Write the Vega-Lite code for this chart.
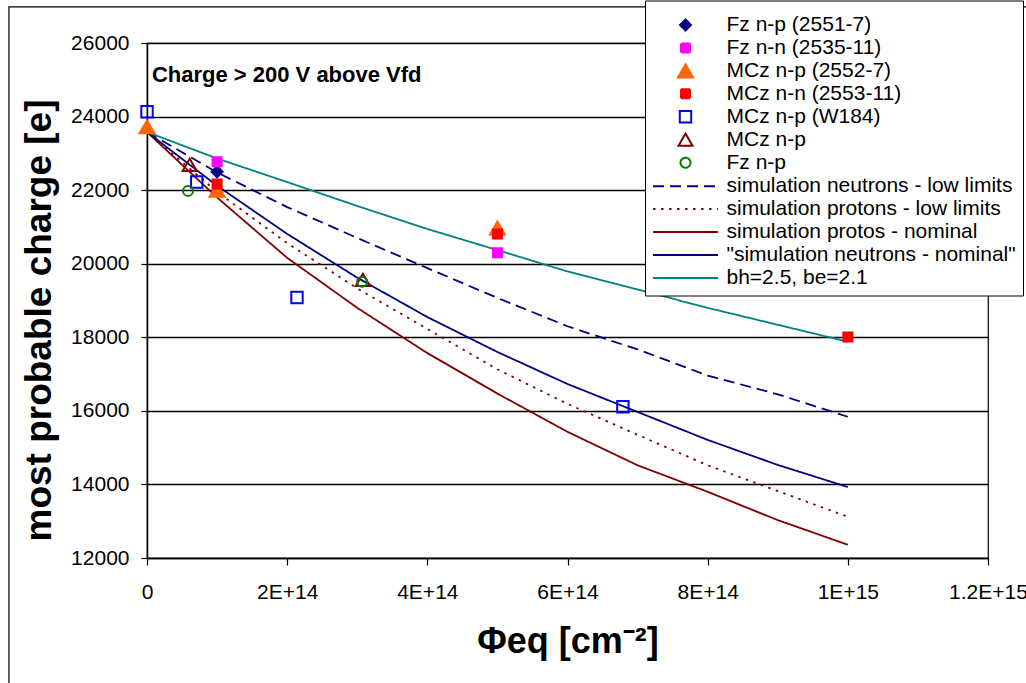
{
  "$schema": "https://vega.github.io/schema/vega-lite/v6.json",
  "autosize": {"type": "none"},
  "width": 841,
  "height": 515,
  "padding": {"left": 147, "top": 43, "right": 38, "bottom": 125},
  "background": "white",
  "config": {
    "view": {"stroke": "black", "strokeWidth": 1.2},
    "font": "Liberation Sans",
    "axis": {
      "labelFont": "Liberation Sans",
      "labelFontSize": 21,
      "labelColor": "black",
      "titleFont": "Liberation Sans",
      "titleFontWeight": "bold",
      "titleColor": "black",
      "domainColor": "black",
      "domainWidth": 1.5,
      "tickColor": "black",
      "tickWidth": 1.2
    },
    "legend": {
      "orient": "none", "legendX": 498, "legendY": -42.5,
      "titleFontSize": 4, "titlePadding": 3,
      "strokeColor": "black", "fillColor": "white", "padding": 7,
      "labelFont": "Liberation Sans", "labelFontSize": 21, "labelColor": "black",
      "labelOffset": 29, "symbolOffset": 21.5, "rowPadding": 0.95, "labelLimit": 500, "symbolLimit": 20,
      "symbolStrokeWidth": 2, "symbolOpacity": 1
    }
  },
  "datasets": {
    "pts": [
      {"series": "Fz n-p (2551-7)", "x": 1e14, "y": 22500},
      {"series": "Fz n-n (2535-11)", "x": 1e14, "y": 22770},
      {"series": "Fz n-n (2535-11)", "x": 5e14, "y": 20300},
      {"series": "MCz n-p (2552-7)", "x": 0, "y": 23720},
      {"series": "MCz n-p (2552-7)", "x": 1e14, "y": 22000},
      {"series": "MCz n-p (2552-7)", "x": 5e14, "y": 20970},
      {"series": "MCz n-n (2553-11)", "x": 1e14, "y": 22170},
      {"series": "MCz n-n (2553-11)", "x": 5e14, "y": 20810},
      {"series": "MCz n-n (2553-11)", "x": 1e15, "y": 18010},
      {"series": "MCz n-p (W184)", "x": 0, "y": 24130},
      {"series": "MCz n-p (W184)", "x": 7.1e13, "y": 22220},
      {"series": "MCz n-p (W184)", "x": 2.14e14, "y": 19080},
      {"series": "MCz n-p (W184)", "x": 6.79e14, "y": 16110},
      {"series": "MCz n-p", "x": 6.1e13, "y": 22690},
      {"series": "MCz n-p", "x": 3.08e14, "y": 19560},
      {"series": "Fz n-p", "x": 5.85e13, "y": 21980},
      {"series": "Fz n-p", "x": 3.07e14, "y": 19510}
    ],
    "lines": [
      {"series": "simulation neutrons - low limits", "x": 0, "y": 23580},
      {"series": "simulation neutrons - low limits", "x": 1e14, "y": 22480},
      {"series": "simulation neutrons - low limits", "x": 2e14, "y": 21540},
      {"series": "simulation neutrons - low limits", "x": 3e14, "y": 20700},
      {"series": "simulation neutrons - low limits", "x": 4e14, "y": 19880},
      {"series": "simulation neutrons - low limits", "x": 5e14, "y": 19070},
      {"series": "simulation neutrons - low limits", "x": 6e14, "y": 18300},
      {"series": "simulation neutrons - low limits", "x": 7e14, "y": 17670},
      {"series": "simulation neutrons - low limits", "x": 8e14, "y": 16960},
      {"series": "simulation neutrons - low limits", "x": 9e14, "y": 16450},
      {"series": "simulation neutrons - low limits", "x": 1e15, "y": 15840},
      {"series": "simulation protons - low limits", "x": 0, "y": 23580},
      {"series": "simulation protons - low limits", "x": 1e14, "y": 21950},
      {"series": "simulation protons - low limits", "x": 2e14, "y": 20560},
      {"series": "simulation protons - low limits", "x": 3e14, "y": 19330},
      {"series": "simulation protons - low limits", "x": 4e14, "y": 18230},
      {"series": "simulation protons - low limits", "x": 5e14, "y": 17130},
      {"series": "simulation protons - low limits", "x": 6e14, "y": 16190},
      {"series": "simulation protons - low limits", "x": 7e14, "y": 15350},
      {"series": "simulation protons - low limits", "x": 8e14, "y": 14520},
      {"series": "simulation protons - low limits", "x": 9e14, "y": 13820},
      {"series": "simulation protons - low limits", "x": 1e15, "y": 13120},
      {"series": "simulation protos - nominal", "x": 0, "y": 23580},
      {"series": "simulation protos - nominal", "x": 1e14, "y": 21800},
      {"series": "simulation protos - nominal", "x": 2e14, "y": 20160},
      {"series": "simulation protos - nominal", "x": 3e14, "y": 18800},
      {"series": "simulation protos - nominal", "x": 4e14, "y": 17570},
      {"series": "simulation protos - nominal", "x": 5e14, "y": 16470},
      {"series": "simulation protos - nominal", "x": 6e14, "y": 15430},
      {"series": "simulation protos - nominal", "x": 7e14, "y": 14520},
      {"series": "simulation protos - nominal", "x": 8e14, "y": 13800},
      {"series": "simulation protos - nominal", "x": 9e14, "y": 13030},
      {"series": "simulation protos - nominal", "x": 1e15, "y": 12360},
      {"series": "\"simulation neutrons - nominal\"", "x": 0, "y": 23580},
      {"series": "\"simulation neutrons - nominal\"", "x": 1e14, "y": 22120},
      {"series": "\"simulation neutrons - nominal\"", "x": 2e14, "y": 20810},
      {"series": "\"simulation neutrons - nominal\"", "x": 3e14, "y": 19620},
      {"series": "\"simulation neutrons - nominal\"", "x": 4e14, "y": 18550},
      {"series": "\"simulation neutrons - nominal\"", "x": 5e14, "y": 17600},
      {"series": "\"simulation neutrons - nominal\"", "x": 6e14, "y": 16730},
      {"series": "\"simulation neutrons - nominal\"", "x": 7e14, "y": 15970},
      {"series": "\"simulation neutrons - nominal\"", "x": 8e14, "y": 15210},
      {"series": "\"simulation neutrons - nominal\"", "x": 9e14, "y": 14530},
      {"series": "\"simulation neutrons - nominal\"", "x": 1e15, "y": 13930},
      {"series": "bh=2.5, be=2.1", "x": 0, "y": 23580},
      {"series": "bh=2.5, be=2.1", "x": 1e14, "y": 22860},
      {"series": "bh=2.5, be=2.1", "x": 2e14, "y": 22220},
      {"series": "bh=2.5, be=2.1", "x": 3e14, "y": 21570},
      {"series": "bh=2.5, be=2.1", "x": 4e14, "y": 20944},
      {"series": "bh=2.5, be=2.1", "x": 5e14, "y": 20370},
      {"series": "bh=2.5, be=2.1", "x": 6e14, "y": 19790},
      {"series": "bh=2.5, be=2.1", "x": 7e14, "y": 19300},
      {"series": "bh=2.5, be=2.1", "x": 8e14, "y": 18800},
      {"series": "bh=2.5, be=2.1", "x": 9e14, "y": 18340},
      {"series": "bh=2.5, be=2.1", "x": 1e15, "y": 17880}
    ],
    "note": [
      {"x": 7e12, "y": 25130, "t": "Charge > 200 V above Vfd"}
    ],
    "frame": [
      {"x": -1.97e14, "x2": 2e15, "y": 26980, "y2": 8000}
    ]
  },
  "encoding": {
    "x": {
      "field": "x", "type": "quantitative",
      "scale": {"domain": [0, 1.2e15], "nice": false, "zero": false},
      "axis": {
        "values": [0, 2e14, 4e14, 6e14, 8e14, 1e15, 1.2e15],
        "labelExpr": "datum.value == 0 ? '0' : upper(format(datum.value, '.2~e'))",
        "grid": false,
        "tickSize": 7,
        "labelPadding": 16,
        "labelFlush": false,
        "labelOverlap": false,
        "title": "Φeq [cm⁻²]",
        "titleFontSize": 36,
        "titlePadding": 22
      }
    },
    "y": {
      "field": "y", "type": "quantitative",
      "scale": {"domain": [12000, 26000], "nice": false, "zero": false},
      "axis": {
        "values": [12000, 14000, 16000, 18000, 20000, 22000, 24000, 26000],
        "format": "d",
        "grid": true,
        "gridColor": "black",
        "gridWidth": 1.6,
        "gridOpacity": 1,
        "tickSize": 6,
        "labelPadding": 12,
        "title": "most probable charge [e]",
        "titleFontSize": 37,
        "titlePadding": 12,
        "titleY": 277
      }
    }
  },
  "layer": [
    {
      "data": {"name": "frame"},
      "mark": {"type": "rect", "fill": "white", "fillOpacity": 0, "stroke": "black", "strokeWidth": 1.2, "clip": false},
      "encoding": {
        "x": {"field": "x", "type": "quantitative"},
        "x2": {"field": "x2"},
        "y": {"field": "y", "type": "quantitative"},
        "y2": {"field": "y2"}
      }
    },
    {
      "data": {"name": "lines"},
      "mark": {"type": "line", "strokeWidth": 1.8, "clip": false},
      "encoding": {
        "stroke": {"field": "series", "type": "nominal",
          "legend": {"title": "\u00a0"},
          "scale": {
            "domain": ["Fz n-p (2551-7)", "Fz n-n (2535-11)", "MCz n-p (2552-7)", "MCz n-n (2553-11)", "MCz n-p (W184)", "MCz n-p", "Fz n-p", "simulation neutrons - low limits", "simulation protons - low limits", "simulation protos - nominal", "\"simulation neutrons - nominal\"", "bh=2.5, be=2.1"],
            "range": ["#000080", "#FF00FF", "#FF6600", "#FF0000", "#0000FF", "#800000", "#008000", "#000080", "#800000", "#800000", "#000080", "#008080"]
          }
        },
        "fill": {"field": "series", "type": "nominal",
          "legend": {"title": "\u00a0"},
          "scale": {
            "domain": ["Fz n-p (2551-7)", "Fz n-n (2535-11)", "MCz n-p (2552-7)", "MCz n-n (2553-11)", "MCz n-p (W184)", "MCz n-p", "Fz n-p", "simulation neutrons - low limits", "simulation protons - low limits", "simulation protos - nominal", "\"simulation neutrons - nominal\"", "bh=2.5, be=2.1"],
            "range": ["#000080", "#FF00FF", "#FF6600", "#FF0000", "transparent", "transparent", "transparent", "transparent", "transparent", "transparent", "transparent", "transparent"]
          }
        },
        "strokeDash": {"field": "series", "type": "nominal",
          "legend": {"title": "\u00a0"},
          "scale": {
            "domain": ["Fz n-p (2551-7)", "Fz n-n (2535-11)", "MCz n-p (2552-7)", "MCz n-n (2553-11)", "MCz n-p (W184)", "MCz n-p", "Fz n-p", "simulation neutrons - low limits", "simulation protons - low limits", "simulation protos - nominal", "\"simulation neutrons - nominal\"", "bh=2.5, be=2.1"],
            "range": [[1, 0], [1, 0], [1, 0], [1, 0], [1, 0], [1, 0], [1, 0], [11, 6], [2.5, 5.5], [1, 0], [1, 0], [1, 0]]
          }
        }
      }
    },
    {
      "data": {"name": "pts"},
      "mark": {"type": "point", "opacity": 1, "strokeWidth": 2, "clip": false},
      "encoding": {
        "stroke": {"field": "series", "type": "nominal", "legend": {"title": "\u00a0"}},
        "fill": {"field": "series", "type": "nominal", "legend": {"title": "\u00a0"}},
        "shape": {"field": "series", "type": "nominal",
          "legend": {"title": "\u00a0"},
          "scale": {
            "domain": ["Fz n-p (2551-7)", "Fz n-n (2535-11)", "MCz n-p (2552-7)", "MCz n-n (2553-11)", "MCz n-p (W184)", "MCz n-p", "Fz n-p", "simulation neutrons - low limits", "simulation protons - low limits", "simulation protos - nominal", "\"simulation neutrons - nominal\"", "bh=2.5, be=2.1"],
            "range": ["diamond", "square", "triangle-up", "square", "square", "triangle-up", "circle", "M-2.95,0H2.95", "M-2.95,0H2.95", "M-2.95,0H2.95", "M-2.95,0H2.95", "M-2.95,0H2.95"]
          }
        },
        "size": {"field": "series", "type": "nominal",
          "legend": {"title": "\u00a0"},
          "scale": {
            "type": "ordinal",
            "domain": ["Fz n-p (2551-7)", "Fz n-n (2535-11)", "MCz n-p (2552-7)", "MCz n-n (2553-11)", "MCz n-p (W184)", "MCz n-p", "Fz n-p", "simulation neutrons - low limits", "simulation protons - low limits", "simulation protos - nominal", "\"simulation neutrons - nominal\"", "bh=2.5, be=2.1"],
            "range": [121, 81, 225, 81, 130, 200, 100, 484, 484, 484, 484, 484]
          }
        }
      }
    },
    {
      "data": {"name": "note"},
      "mark": {"type": "text", "align": "left", "baseline": "middle", "font": "Liberation Sans", "fontWeight": "bold", "fontSize": 22, "color": "black"},
      "encoding": {
        "text": {"field": "t"}
      }
    }
  ]
}
